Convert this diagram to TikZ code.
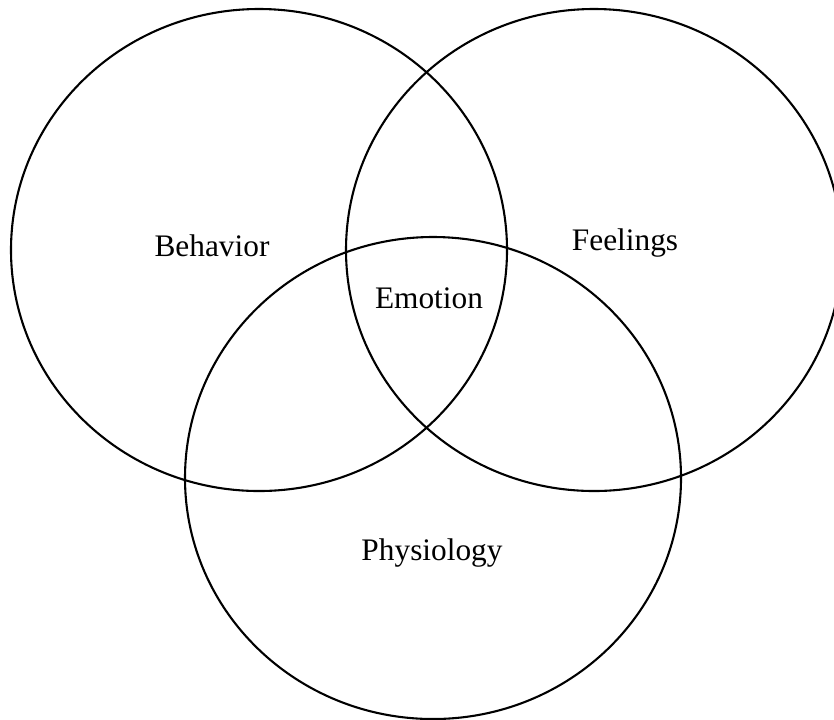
\documentclass[tikz,border=0pt]{standalone}
\usepackage{fontspec}
\setmainfont{Liberation Serif}
\usepackage{tikz}

\begin{document}
\begin{tikzpicture}[line cap=round,line join=round,x=0.383pt,y=0.383pt,
	setlabel/.style={font=\fontsize{12}{14}\selectfont,color=black}]
			\useasboundingbox (0,0) rectangle (834,719);
			\clip (0,0) rectangle (834,719);
			\draw [line width=0.8pt] (259,469) ellipse (248 and 241);
			\draw [line width=0.8pt] (594,469) ellipse (248 and 241);
			\draw [line width=0.8pt] (433,241) ellipse (248 and 241);
			\node[setlabel] (behavior) at (212,473) {Behavior};
			\node[setlabel] (feelings) at (625,476) {Feelings};
			\node[setlabel] (emotion) at (429,421) {Emotion};
			\node[setlabel] (physiology) at (432,166) {Physiology};
			\end{tikzpicture}
\end{document}
